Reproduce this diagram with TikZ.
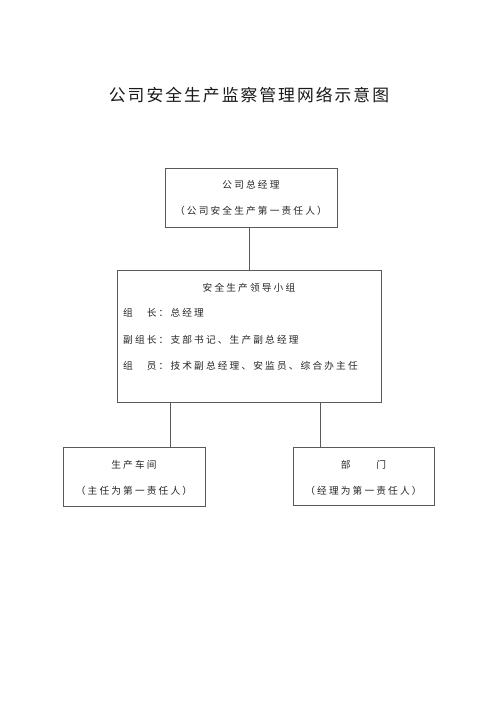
\documentclass[tikz,border=0pt]{standalone}
\usepackage{fontspec}
\setmainfont{Liberation Serif}
\newfontfamily\cjk[LetterSpace=22]{Noto Sans CJK SC}
\newfontfamily\cjktitle[LetterSpace=12]{Noto Sans CJK SC}
\begin{document}
\begin{tikzpicture}[x=1pt,y=-1pt,
  box/.style={draw=black!65,line width=0.8pt,rectangle,inner sep=0pt},
  txt/.style={inner sep=0pt,text=black!85,font=\cjk\fontsize{9.7}{11}\selectfont},
  lft/.style={txt,anchor=west},
  conn/.style={draw=black!65,line width=0.8pt}]
\useasboundingbox (0,0) rectangle (500,707);
\fill[white] (0,0) rectangle (500,707);
\node[inner sep=0pt,text=black!90,font=\cjktitle\fontsize{16.8}{18}\selectfont] (title) at (249,95) {公司安全生产监察管理网络示意图};
% box 1
\node[box,minimum width=172pt,minimum height=59pt] (b1) at (251,197.5) {};
\node[txt] (b1a) at (251,185) {公司总经理};
\node[txt] (b1b) at (251,211) {（公司安全生产第一责任人）};
% box 2
\node[box,minimum width=264pt,minimum height=132pt] (b2) at (249,336) {};
\node[txt] (b2a) at (249,288) {安全生产领导小组};
\node[lft] (b2b) at (123,313) {组　长：总经理};
\node[lft] (b2c) at (123,340) {副组长：支部书记、生产副总经理};
\node[lft] (b2d) at (123,366) {组　员：技术副总经理、安监员、综合办主任};
% box 3
\node[box,minimum width=142pt,minimum height=59pt] (b3) at (134,477) {};
\node[txt] (b3a) at (134,465) {生产车间};
\node[txt] (b3b) at (134,491) {（主任为第一责任人）};
% box 4
\node[box,minimum width=141pt,minimum height=58pt] (b4) at (363.5,476) {};
\node[txt] (b4a) at (363.5,465) {部　　门};
\node[txt] (b4b) at (363.5,491) {（经理为第一责任人）};
% connectors
\coordinate (c1) at (249,0);
\coordinate (c2) at (170,0);
\coordinate (c3) at (320,0);
\draw[conn] (b1.south -| c1) -- (b2.north -| c1);
\draw[conn] (b2.south -| c2) -- (b3.north -| c2);
\draw[conn] (b2.south -| c3) -- (b4.north -| c3);
\end{tikzpicture}
\end{document}
